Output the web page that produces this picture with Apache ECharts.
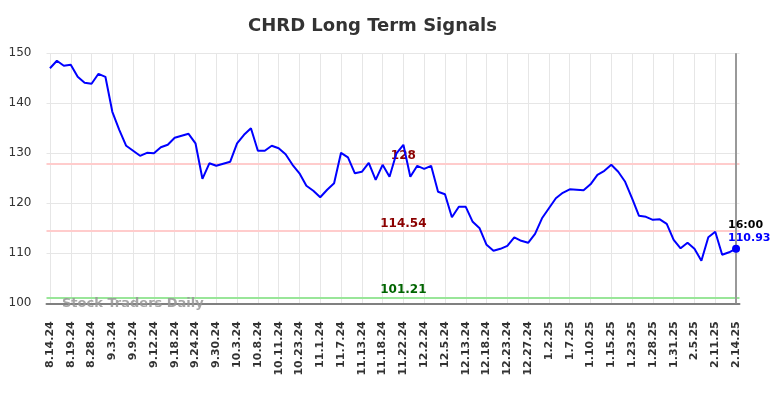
<!DOCTYPE html>
<html>
<head>
<meta charset="utf-8">
<title>CHRD Long Term Signals</title>
<script src="https://cdn.jsdelivr.net/npm/echarts@6/dist/echarts.min.js"></script>
<style>
  html, body { margin: 0; padding: 0; background: #fff; }
  #chart { width: 784px; height: 398px; }
</style>
</head>
<body>
<div id="chart"></div>
<script>
// tick labels, one every third point
const tickLabels = [
  '8.14.24', '8.19.24', '8.28.24', '9.3.24', '9.9.24', '9.12.24', '9.18.24',
  '9.24.24', '9.30.24', '10.3.24', '10.8.24', '10.11.24', '10.23.24', '11.1.24',
  '11.7.24', '11.13.24', '11.18.24', '11.22.24', '12.2.24', '12.5.24', '12.13.24',
  '12.18.24', '12.23.24', '12.27.24', '1.2.25', '1.7.25', '1.10.25', '1.15.25',
  '1.23.25', '1.28.25', '1.31.25', '2.5.25', '2.11.25', '2.14.25'
]

const prices = [
  147.0, 148.5, 147.5, 147.7, 145.3, 144.1, 143.9, 145.9, 145.3, 138.3,
  134.7, 131.5, 130.5, 129.5, 130.1, 130.0, 131.2, 131.7, 133.1, 133.5,
  133.9, 132.0, 124.9, 128.0, 127.5, 127.9, 128.3, 132.0, 133.7, 135.0,
  130.5, 130.5, 131.5, 131.0, 129.8, 127.7, 126.0, 123.5, 122.5, 121.2,
  122.7, 124.0, 130.1, 129.2, 126.0, 126.3, 128.1, 124.7, 127.7, 125.3,
  130.0, 131.7, 125.3, 127.5, 126.9, 127.5, 122.3, 121.8, 117.2, 119.3,
  119.3, 116.3, 115.0, 111.7, 110.5, 110.9, 111.5, 113.2, 112.5, 112.1,
  113.9, 117.0, 119.0, 121.0, 122.1, 122.8, 122.7, 122.6, 123.8, 125.7,
  126.5, 127.7, 126.3, 124.3, 121.0, 117.5, 117.3, 116.7, 116.8, 115.9,
  112.7, 111.0, 112.1, 110.9, 108.5, 113.2, 114.3, 109.7, 110.2, 110.93
]

// signal levels
const resistance = 128
const midLevel = 114.54
const support = 101.21
const lastTime = '16:00'
const labelIndex = 51

const categories = prices.map((_, i) => (i % 3 === 0 ? tickLabels[i / 3] : ''))
const lastIndex = prices.length - 1
const lastPrice = prices[lastIndex]

const chart = echarts.init(document.getElementById('chart'))

const levelLabel = (value, color) => ({
  coord: [labelIndex, value],
  value: value,
  symbol: 'circle',
  symbolSize: 0,
  label: {
    show: true,
    position: 'inside',
    offset: [0, -7],
    formatter: String(value),
    color: color,
    fontFamily: 'DejaVu Sans',
    fontWeight: 'bold',
    fontSize: 12,
  },
})

chart.setOption({
  animation: false,
  title: {
    text: 'CHRD Long Term Signals',
    left: 248,
    top: 17,
    padding: 0,
    textStyle: { fontFamily: 'DejaVu Sans', fontWeight: 'bold', fontSize: 18, color: '#333' },
  },
  graphic: [
    {
      type: 'text',
      left: 62,
      top: 297,
      z: 100,
      style: {
        text: 'Stock Traders Daily',
        fill: 'rgba(150,150,150,0.85)',
        font: 'bold 13px "DejaVu Sans"',
      },
    },
  ],
  grid: { left: 46.5, right: 44.5, top: 53.3, bottom: 94.7 },
  xAxis: {
    type: 'category',
    data: categories,
    boundaryGap: true,
    axisLine: { lineStyle: { color: '#808080', width: 2 } },
    axisTick: { show: false },
    axisLabel: {
      interval: 2,
      rotate: 90,
      margin: 18,
      color: '#333',
      fontFamily: 'DejaVu Sans',
      fontWeight: 'bold',
      fontSize: 11,
    },
    splitLine: { show: true, interval: 2, alignWithLabel: true, lineStyle: { color: '#e6e6e6', width: 1 } },
  },
  yAxis: {
    type: 'value',
    min: 100,
    max: 150,
    interval: 10,
    axisLine: { show: false },
    axisTick: { show: false },
    axisLabel: { color: '#333', fontFamily: 'DejaVu Sans', fontSize: 12, margin: 15 },
    splitLine: { lineStyle: { color: '#e6e6e6', width: 1 } },
  },
  series: [
    {
      type: 'line',
      data: prices,
      showSymbol: false,
      lineStyle: { color: '#0000ff', width: 2 },
      itemStyle: { color: '#0000ff' },
      z: 5,
      markLine: {
        silent: true,
        symbol: 'none',
        label: { show: false },
        data: [
          { yAxis: resistance, lineStyle: { color: '#ffcccc', width: 2, type: 'solid' } },
          { yAxis: midLevel, lineStyle: { color: '#ffcccc', width: 2, type: 'solid' } },
          { yAxis: support, lineStyle: { color: '#99e699', width: 2, type: 'solid' } },
          { xAxis: lastIndex, lineStyle: { color: '#999', width: 2, type: 'solid' } },
        ],
      },
      markPoint: {
        silent: true,
        data: [
          levelLabel(resistance, '#8b0000'),
          levelLabel(midLevel, '#8b0000'),
          levelLabel(support, '#006400'),
          {
            coord: [lastIndex, lastPrice],
            value: lastPrice,
            symbol: 'circle',
            symbolSize: 8,
            itemStyle: { color: '#0000ff' },
            label: {
              show: true,
              position: [-4, -26],
              align: 'left',
              verticalAlign: 'top',
              formatter: '{t|' + lastTime + '}\n{v|' + lastPrice.toFixed(2) + '}',
              rich: {
                t: { color: '#000', fontFamily: 'DejaVu Sans', fontWeight: 'bold', fontSize: 11, lineHeight: 13 },
                v: { color: '#0000ff', fontFamily: 'DejaVu Sans', fontWeight: 'bold', fontSize: 11, lineHeight: 13 },
              },
            },
          },
        ],
      },
    },
  ],
})
</script>
</body>
</html>
